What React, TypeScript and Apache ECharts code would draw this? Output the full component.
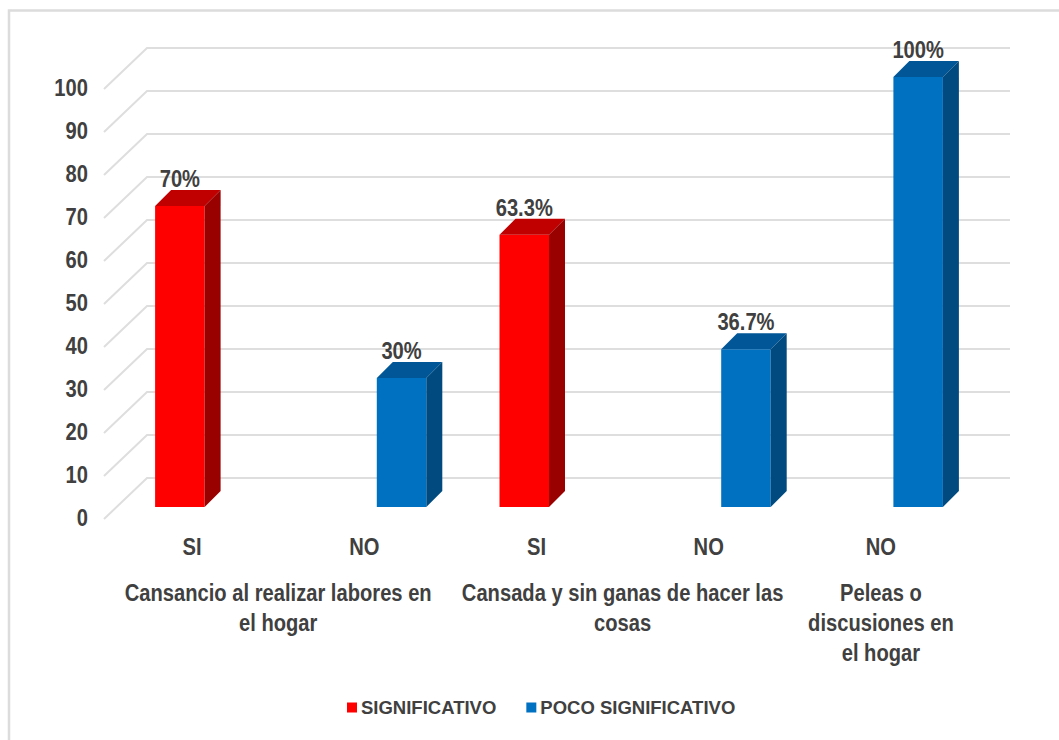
import React, { useEffect, useRef } from "react";
import * as echarts from "echarts";

const categories = ["SI", "NO", "SI", "NO", "NO"];
const significativo: (number | null)[] = [70, null, 63.3, null, null];
const pocoSignificativo: (number | null)[] = [null, 30, null, 36.7, 100];
const gridTicks = [0, 10, 20, 30, 40, 50, 60, 70, 80, 90, 100];
const groupLabels = [
  { from: 0, to: 1, text: "Cansancio al realizar labores en\nel hogar" },
  { from: 2, to: 3, text: "Cansada y sin ganas de hacer las\ncosas" },
  { from: 4, to: 4, text: "Peleas o\ndiscusiones en\nel hogar" },
];

const TEXT = "#404040";
const FONT = "'Liberation Sans', Arial, sans-serif";
const NARROW = 0.84;

function narrowText(x: number, y: number, text: string, align: string, verticalAlign = "middle", lineHeight?: number) {
  return {
    type: "text",
    x,
    y,
    scaleX: NARROW,
    style: {
      text,
      fill: TEXT,
      font: `bold 24px ${FONT}`,
      align,
      verticalAlign,
      ...(lineHeight ? { lineHeight } : {}),
    },
  };
}

function barSeries(
  name: string,
  values: (number | null)[],
  front: string,
  top: string,
  side: string,
  startOffset: number
) {
  return {
    type: "custom",
    name,
    z: 3,
    itemStyle: { color: front },
    data: values.map((v, i) => [i, v]),
    renderItem: (_: any, api: any) => {
      const v = api.value(1);
      if (v === null || v === undefined || isNaN(v)) return null;
      const [cx, y1] = api.coord([api.value(0), v]);
      const [, y0] = api.coord([api.value(0), 0]);
      const w = 49.5;
      const d = 16;
      const x0 = cx + startOffset;
      const x1 = x0 + w;
      return {
        type: "group",
        children: [
          { type: "rect", shape: { x: x0, y: y1, width: w, height: y0 - y1 }, style: { fill: front } },
          {
            type: "polygon",
            shape: { points: [[x0, y1], [x1, y1], [x1 + d, y1 - d], [x0 + d, y1 - d]] },
            style: { fill: top },
          },
          {
            type: "polygon",
            shape: { points: [[x1, y1], [x1 + d, y1 - d], [x1 + d, y0 - d], [x1, y0]] },
            style: { fill: side },
          },
          narrowText((x0 + x1) / 2, y1 - 27, `${v}%`, "center"),
        ],
      };
    },
  };
}

export default function App() {
  const ref = useRef<HTMLDivElement>(null);
  useEffect(() => {
    const chart = echarts.init(ref.current!, undefined, { renderer: "svg" });
    chart.setOption({
      animation: false,
      backgroundColor: "#fff",
      graphic: [
        {
          type: "rect",
          silent: true,
          z: -10,
          shape: { x: 9, y: 10.5, width: 1060, height: 760 },
          style: { fill: "none", stroke: "#DCDCDC", lineWidth: 2.5 },
        },
      ],
      grid: { left: 106, width: 861, top: 77, height: 430 },
      legend: {
        data: ["SIGNIFICATIVO", "POCO SIGNIFICATIVO"],
        left: 342,
        top: 693,
        itemWidth: 10,
        itemHeight: 10,
        itemGap: 30,
        icon: "rect",
        textStyle: {
          color: TEXT,
          fontFamily: FONT,
          fontWeight: "bold",
          fontSize: 18.5,
          padding: [0, 0, 0, -1],
        },
      },
      xAxis: {
        type: "category",
        data: categories,
        axisLine: { show: false },
        axisTick: { show: false },
        axisLabel: { show: false },
      },
      yAxis: {
        type: "value",
        min: 0,
        max: 100,
        interval: 10,
        splitLine: { show: false },
        axisLine: { show: false },
        axisTick: { show: false },
        axisLabel: { show: false },
      },
      series: [
        {
          type: "custom",
          name: "grid",
          z: 1,
          silent: true,
          data: gridTicks.map((t) => [0, t]),
          renderItem: (_: any, api: any) => {
            const t = api.value(1);
            const y = api.coord([0, t])[1];
            return {
              type: "group",
              children: [
                {
                  type: "polyline",
                  shape: { points: [[104, y + 12], [147, y - 29], [1010, y - 29]] },
                  style: { stroke: "#DEDEDE", lineWidth: 2, fill: "none" },
                },
                narrowText(88, y + 10.5, String(t), "right"),
              ],
            };
          },
        },
        {
          type: "custom",
          name: "categoryLabels",
          z: 2,
          silent: true,
          data: categories.map((c, i) => [i, 0]),
          renderItem: (p: any, api: any) => {
            const x = api.coord([api.value(0), 0])[0];
            return narrowText(x, 546.5, categories[p.dataIndex], "center");
          },
        },
        barSeries("SIGNIFICATIVO", significativo, "#FF0000", "#C00000", "#990000", -37),
        barSeries("POCO SIGNIFICATIVO", pocoSignificativo, "#0070C0", "#005696", "#004A80", 12.5),
        {
          type: "custom",
          name: "groups",
          z: 2,
          silent: true,
          data: groupLabels.map((g) => [g.from, g.to]),
          renderItem: (p: any, api: any) => {
            const a = api.coord([api.value(0), 0]);
            const b = api.coord([api.value(1), 0]);
            return narrowText((a[0] + b[0]) / 2, 578, groupLabels[p.dataIndex].text, "center", "top", 30);
          },
        },
      ],
    });
    return () => chart.dispose();
  }, []);
  return (
    <div
      ref={ref}
      style={{ position: "absolute", left: 0, top: 0, width: 1059, height: 740 }}
    />
  );
}
